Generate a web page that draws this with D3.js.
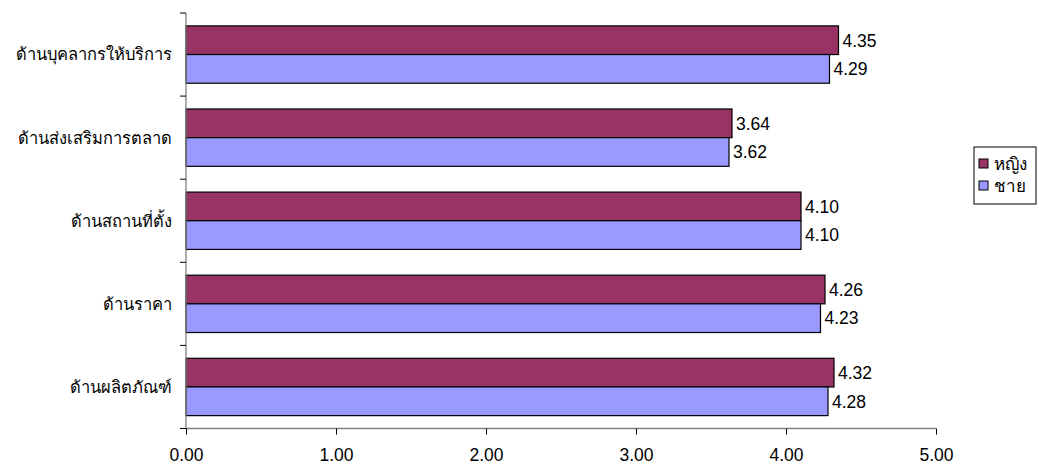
<!DOCTYPE html>
<html>
<head>
<meta charset="utf-8">
<script src="https://cdn.jsdelivr.net/npm/d3@7"></script>
<style>
  html, body { margin: 0; padding: 0; background: #fff; }
  svg { display: block; }
  text { font-family: "Liberation Sans", Arial, "Noto Sans", sans-serif; fill: #000; }
</style>
</head>
<body>
<svg id="chart" width="1039" height="468"></svg>
<script>
// Categories, top to bottom
const categories = [
  "ด้านบุคลากรให้บริการ",
  "ด้านส่งเสริมการตลาด",
  "ด้านสถานที่ตั้ง",
  "ด้านราคา",
  "ด้านผลิตภัณฑ์"
];
const seriesNames = ["หญิง", "ชาย"];
const femaleValues = [4.35, 3.64, 4.10, 4.26, 4.32];
const maleValues = [4.29, 3.62, 4.10, 4.23, 4.28];
const xTicks = [0, 1, 2, 3, 4, 5];

const colors = { "หญิง": "#993366", "ชาย": "#9999FF" };
const rows = categories.map((c, i) => ({
  category: c,
  values: [
    { series: seriesNames[0], value: femaleValues[i] },
    { series: seriesNames[1], value: maleValues[i] }
  ]
}));

const svg = d3.select("#chart");
const plotLeft = 186, plotRight = 936, plotTop = 13, plotBottom = 428.5;

const x = d3.scaleLinear().domain([0, 5]).range([plotLeft, plotRight]);
const y = d3.scaleBand().domain(categories).range([plotTop, plotBottom]).paddingInner(0.31).paddingOuter(0.155);
const ySub = d3.scaleBand().domain(seriesNames).range([0, y.bandwidth()]);

// Bars
const groups = svg.append("g").selectAll("g").data(rows).join("g")
  .attr("transform", d => `translate(0,${y(d.category)})`);

groups.selectAll("rect").data(d => d.values).join("rect")
  .attr("x", x(0))
  .attr("y", d => ySub(d.series))
  .attr("width", d => x(d.value) - x(0))
  .attr("height", ySub.bandwidth())
  .attr("fill", d => colors[d.series])
  .attr("stroke", "#000")
  .attr("stroke-width", 1.2);

groups.selectAll("text.val").data(d => d.values).join("text")
  .attr("class", "val")
  .attr("x", d => x(d.value) + 4)
  .attr("y", d => ySub(d.series) + ySub.bandwidth() / 2)
  .attr("dy", "0.36em")
  .attr("font-size", 17.5)
  .text(d => d.value.toFixed(2));

// Y axis: line with ticks at band boundaries
const yAxisG = svg.append("g");
yAxisG.append("line")
  .attr("x1", plotLeft).attr("x2", plotLeft)
  .attr("y1", plotTop).attr("y2", plotBottom)
  .attr("stroke", "#808080").attr("stroke-width", 1.3);
const bounds = d3.range(categories.length + 1).map(i => plotTop + i * (plotBottom - plotTop) / categories.length);
yAxisG.selectAll("line.tick").data(bounds).join("line")
  .attr("class", "tick")
  .attr("x1", plotLeft - 6).attr("x2", plotLeft)
  .attr("y1", d => d).attr("y2", d => d)
  .attr("stroke", "#000").attr("stroke-width", 1);
yAxisG.selectAll("text").data(categories).join("text")
  .attr("x", 172)
  .attr("y", d => y(d) + y.bandwidth() / 2)
  .attr("dy", "0.36em")
  .attr("text-anchor", "end")
  .attr("font-size", 16.5)
  .text(d => d);

// X axis
const xAxis = d3.axisBottom(x).tickValues(xTicks).tickFormat(d3.format(".2f")).tickSize(6).tickPadding(14);
const xAxisG = svg.append("g").attr("transform", `translate(0,${plotBottom})`).call(xAxis);
xAxisG.select(".domain").attr("stroke", "#808080").attr("stroke-width", 1.3).attr("d", `M${plotLeft},0H${plotRight}`);
xAxisG.selectAll(".tick line").attr("stroke", "#000");
xAxisG.selectAll(".tick text").attr("font-size", 17.5).attr("font-family", "Liberation Sans, Arial, sans-serif").attr("fill", "#000");

// Legend
const legend = svg.append("g").attr("transform", "translate(974,147)");
legend.append("rect").attr("width", 62).attr("height", 57)
  .attr("fill", "#fff").attr("stroke", "#000").attr("stroke-width", 1);
const li = legend.selectAll("g").data(seriesNames).join("g")
  .attr("transform", (d, i) => `translate(5,${12 + i * 22})`);
li.append("rect").attr("width", 9).attr("height", 9)
  .attr("fill", d => colors[d]).attr("stroke", "#000").attr("stroke-width", 1);
li.append("text").attr("x", 15).attr("y", 5).attr("dy", "0.36em")
  .attr("font-size", 17).text(d => d);
</script>
</body>
</html>
